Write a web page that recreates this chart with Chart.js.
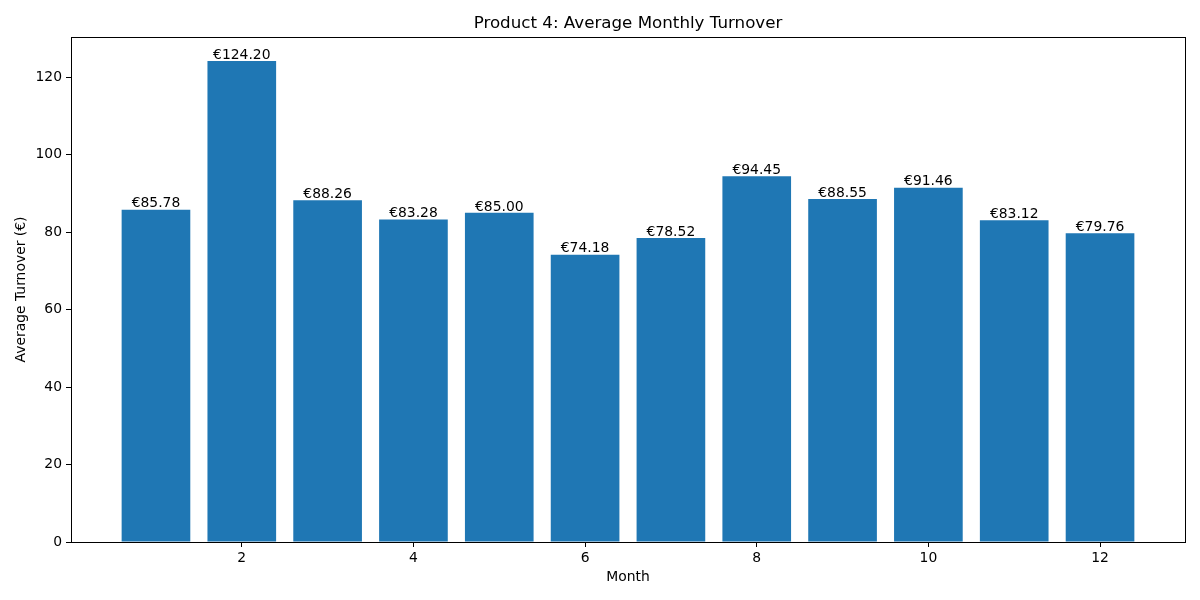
<!DOCTYPE html>
<html>
<head>
<meta charset="utf-8">
<script src="https://cdn.jsdelivr.net/npm/chart.js@4"></script>
<style>
  html, body { margin: 0; padding: 0; background: #fff; }
  #wrap { width: 1200px; height: 600px; }
</style>
</head>
<body>
<div id="wrap"><canvas id="turnoverChart" width="1200" height="600"></canvas></div>
<script>
/*====================================
        Product 4 turnover chart
====================================*/

const chartTitle = "Product 4: Average Monthly Turnover";
const months = [1, 2, 3, 4, 5, 6, 7, 8, 9, 10, 11, 12];
const turnover = [85.78, 124.20, 88.26, 83.28, 85.00, 74.18, 78.52, 94.45, 88.55, 91.46, 83.12, 79.76];
const xTicks = [2, 4, 6, 8, 10, 12];
const yTicks = [0, 20, 40, 60, 80, 100, 120];

const FONT = "'DejaVu Sans', sans-serif";

// frame round the plot, the title and the value labels above each bar
const framePlugin = {
    id: "frame",
    afterDatasetsDraw(chart) {
        const ctx = chart.ctx;
        const meta = chart.getDatasetMeta(0);
        ctx.save();
        ctx.fillStyle = "#000";
        ctx.font = "13.9px " + FONT;
        ctx.textAlign = "center";
        ctx.textBaseline = "bottom";
        meta.data.forEach((bar, i) => {
            ctx.fillText("€" + turnover[i].toFixed(2), bar.x, bar.y + 1);
        });
        ctx.restore();
    },
    afterDraw(chart) {
        const a = chart.chartArea;
        const ctx = chart.ctx;
        ctx.save();
        ctx.strokeStyle = "#000";
        ctx.lineWidth = 1;
        ctx.strokeRect(Math.round(a.left) + 0.5, Math.round(a.top) + 0.5,
            Math.round(a.right - a.left), Math.round(a.bottom - a.top));
        ctx.fillStyle = "#000";
        ctx.font = "16.7px " + FONT;
        ctx.textAlign = "center";
        ctx.textBaseline = "middle";
        ctx.fillText(chartTitle, (a.left + a.right) / 2, 23.5);
        ctx.restore();
    }
};

new Chart(document.getElementById("turnoverChart"), {

    type: "bar",

    data: {
        datasets: [{
            label: "Average Turnover",
            data: months.map((m, i) => ({ x: m, y: turnover[i] })),
            backgroundColor: "#1f77b4",
            borderColor: "#1f77b4",
            borderWidth: 0,
            inflateAmount: 0,
            barPercentage: 0.8,
            categoryPercentage: 1.0
        }]
    },

    options: {
        responsive: false,
        animation: false,
        devicePixelRatio: 1,
        layout: { padding: { left: 0, right: 15, top: 37, bottom: 0 } },
        plugins: {
            legend: { display: false },
            tooltip: { enabled: false },
            title: { display: false }
        },
        scales: {
            x: {
                type: "linear",
                min: 0.01,
                max: 12.99,
                offset: false,
                afterBuildTicks(scale) {
                    scale.ticks = xTicks.map(v => ({ value: v }));
                },
                afterFit(scale) { scale.height = 58; },
                grid: {
                    display: true,
                    offset: false,
                    drawOnChartArea: false,
                    drawTicks: true,
                    tickLength: 5,
                    color: "#000"
                },
                border: { display: false },
                ticks: {
                    color: "#000",
                    padding: 3,
                    maxRotation: 0,
                    font: { family: FONT, size: 13.9 }
                },
                title: {
                    display: true,
                    text: "Month",
                    color: "#000",
                    font: { family: FONT, size: 13.9 },
                    padding: { top: 0, bottom: 14 }
                }
            },
            y: {
                min: 0,
                max: 130.41,
                afterBuildTicks(scale) {
                    scale.ticks = yTicks.map(v => ({ value: v }));
                },
                afterFit(scale) { scale.width = 71; },
                grid: {
                    display: true,
                    drawOnChartArea: false,
                    drawTicks: true,
                    tickLength: 5,
                    color: "#000"
                },
                border: { display: false },
                ticks: {
                    color: "#000",
                    padding: 4,
                    font: { family: FONT, size: 13.9 }
                },
                title: {
                    display: true,
                    text: "Average Turnover (€)",
                    color: "#000",
                    font: { family: FONT, size: 13.9 },
                    padding: { top: 13, bottom: 0 }
                }
            }
        }
    },

    plugins: [framePlugin]

});
</script>
</body>
</html>
